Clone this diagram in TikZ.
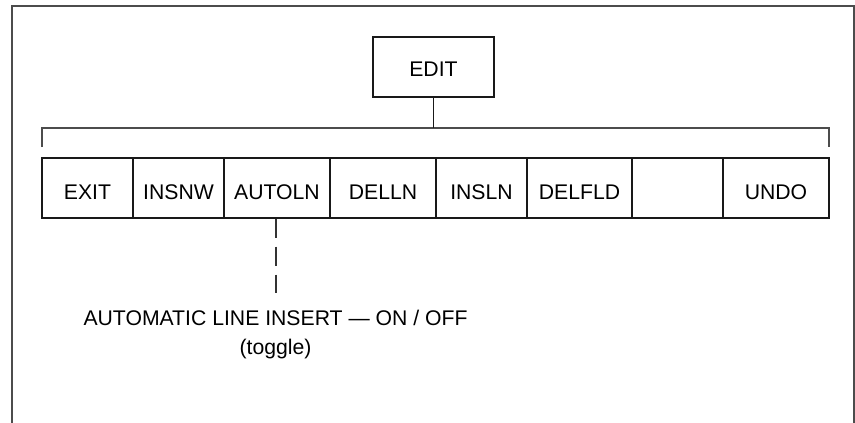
\documentclass[tikz,border=0pt]{standalone}
\usepackage{fontspec}
\setmainfont{Liberation Sans}
\begin{document}
\begin{tikzpicture}[x=1pt,y=-1pt,
  cell/.style={draw=black!90, line width=1.2pt, rectangle, inner sep=0pt, minimum height=60pt},
  lbl/.style={font=\fontsize{21.2}{25}\selectfont, anchor=base, inner sep=0pt},
  frame/.style={draw=black!70, line width=2pt},
  brace/.style={draw=black!70, line width=1.4pt},
  conn/.style={draw=black!90, line width=1.2pt},
  dashconn/.style={draw=black!80, line width=1.2pt, dash pattern=on 19pt off 9pt}]
\useasboundingbox (0,0) rectangle (855,423);
% outer frame, open at the bottom
\draw[frame] (12,423) -- (12,6) -- (854,6) -- (854,423);
% EDIT box
\node[cell, minimum width=121pt] (edit) at (433.5,67) {};
\node[lbl] at ([yshift=-9pt]edit.center) {EDIT};
% bracket
\coordinate (bl) at (42,147);
\coordinate (br) at (829,147);
\coordinate (bt) at (433.5,128);
\draw[brace] (bl) -- ++(0,-19) -| (br);
\draw[conn] (edit.south) -- (bt);
% soft-key row
\node[cell, minimum width=91pt]  (exit)   at (87.5,188) {};
\node[cell, minimum width=91pt]  (insnw)  at (178.5,188) {};
\node[cell, minimum width=106pt] (autoln) at (277,188) {};
\node[cell, minimum width=106pt] (delln)  at (383,188) {};
\node[cell, minimum width=91pt]  (insln)  at (481.5,188) {};
\node[cell, minimum width=105pt] (delfld) at (579.5,188) {};
\node[cell, minimum width=91pt]  (blank)  at (677.5,188) {};
\node[cell, minimum width=106pt] (undo)   at (776,188) {};
\node[lbl] at ([yshift=-11.5pt]exit.center) {EXIT};
\node[lbl] at ([yshift=-11.5pt]insnw.center) {INSNW};
\node[lbl] at ([yshift=-11.5pt]autoln.center) {AUTOLN};
\node[lbl] at ([yshift=-11.5pt]delln.center) {DELLN};
\node[lbl] at ([yshift=-11.5pt]insln.center) {INSLN};
\node[lbl] at ([yshift=-11.5pt]delfld.center) {DELFLD};
\node[lbl] at ([yshift=-11.5pt]undo.center) {UNDO};
% annotation
\coordinate (dend) at (276,293);
\draw[dashconn] (autoln.south -| dend) -- (dend);
\node[lbl] (note) at (275.5,325) {AUTOMATIC LINE INSERT — ON / OFF};
\node[lbl] (tog) at (275.5,354) {(toggle)};
\end{tikzpicture}
\end{document}
